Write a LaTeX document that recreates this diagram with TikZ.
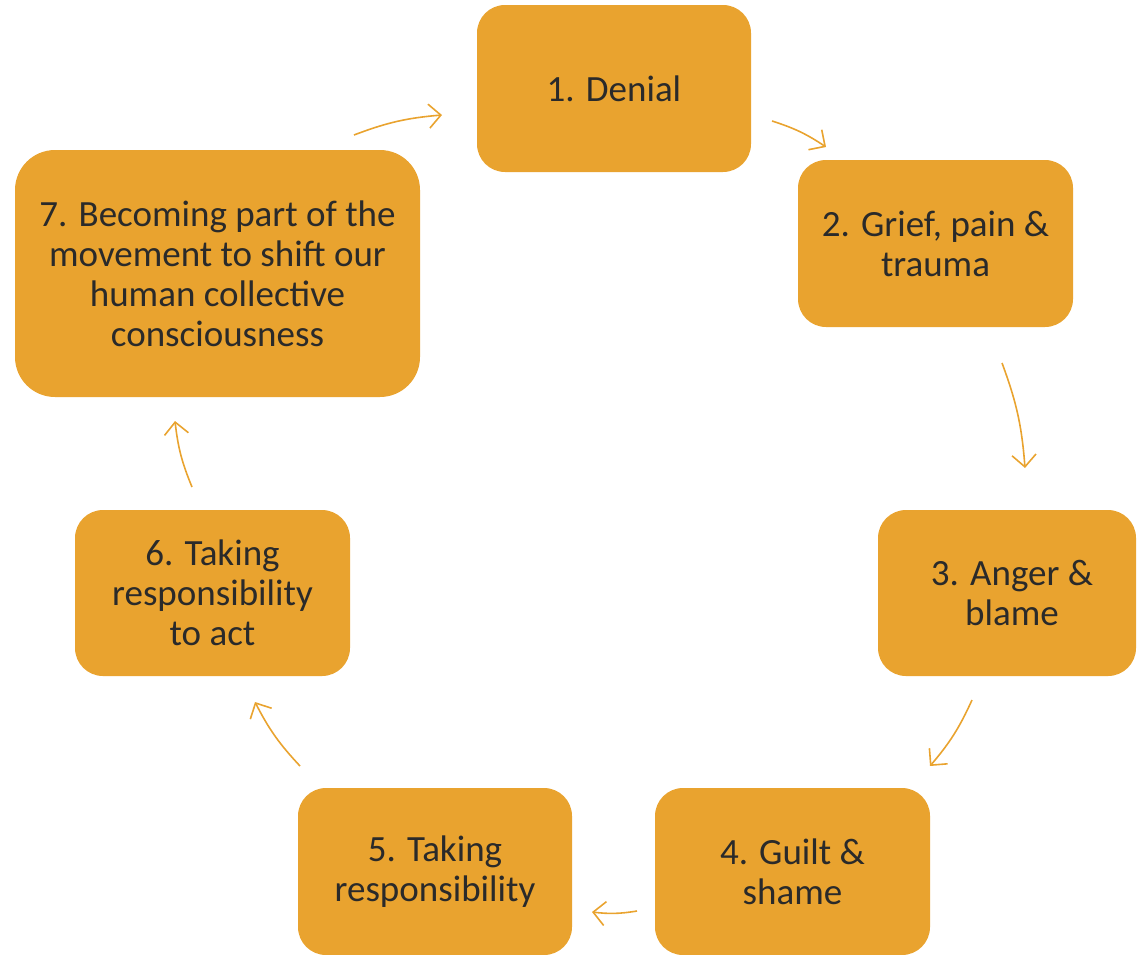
\documentclass[tikz,border=0pt]{standalone}
\usepackage{fontspec}
\setmainfont{Carlito}
\usetikzlibrary{arrows.meta}
\definecolor{boxfill}{HTML}{E9A32F}
\definecolor{txt}{HTML}{2A2A2A}
\tikzset{
  stage/.style={draw=none, fill=boxfill, rounded corners=28pt, align=center,
    text=txt, font=\fontsize{37pt}{40pt}\selectfont, inner sep=0pt},
  flow/.style={draw=boxfill, line width=1.6pt,
    -{Straight Barb[length=12pt,width=24pt,line width=1.6pt]}, bend left=8},
}
\begin{document}
\begin{tikzpicture}[x=1pt,y=-1pt]
\useasboundingbox (0,0) rectangle (1137,954);
\node[stage, minimum width=274pt, minimum height=167pt] (s1) at (614,88.5) {1. Denial};
\node[stage, minimum width=275pt, minimum height=167pt] (s2) at (935.5,243.5) {2. Grief, pain \&\\trauma};
\node[stage, minimum width=258pt, minimum height=166pt] (s3) at (1007,593) {\hspace*{10pt}3. Anger \&\\\hspace*{10pt}blame};
\node[stage, minimum width=275pt, minimum height=167pt] (s4) at (792.5,871.5) {4. Guilt \&\\shame};
\node[stage, minimum width=274pt, minimum height=167pt] (s5) at (435,871.5) {5. Taking\\responsibility};
\node[stage, minimum width=275pt, minimum height=166pt] (s6) at (212.5,593) {6. Taking\\responsibility\\to act};
\node[stage, minimum width=405pt, minimum height=247pt, rounded corners=40pt] (s7) at (217.5,273.5) {7. Becoming part of the\\movement to shift our\\human collective\\consciousness};
% connector end points
\coordinate (a1) at (772,121); \coordinate (b1) at (826,147);
\coordinate (a2) at (1002,363); \coordinate (b2) at (1025,468);
\coordinate (a3) at (972,700); \coordinate (b3) at (930,766);
\coordinate (a4) at (637,911); \coordinate (b4) at (592,912);
\coordinate (a5) at (300,766); \coordinate (b5) at (255,702);
\coordinate (a6) at (192,487); \coordinate (b6) at (175,421);
\coordinate (a7) at (354,135); \coordinate (b7) at (442,115);
\draw[flow] (a1) to (b1);
\draw[flow] (a2) to (b2);
\draw[flow] (a3) to (b3);
\draw[flow] (a4) to (b4);
\draw[flow] (a5) to (b5);
\draw[flow] (a6) to (b6);
\draw[flow] (a7) to (b7);
\end{tikzpicture}
\end{document}
